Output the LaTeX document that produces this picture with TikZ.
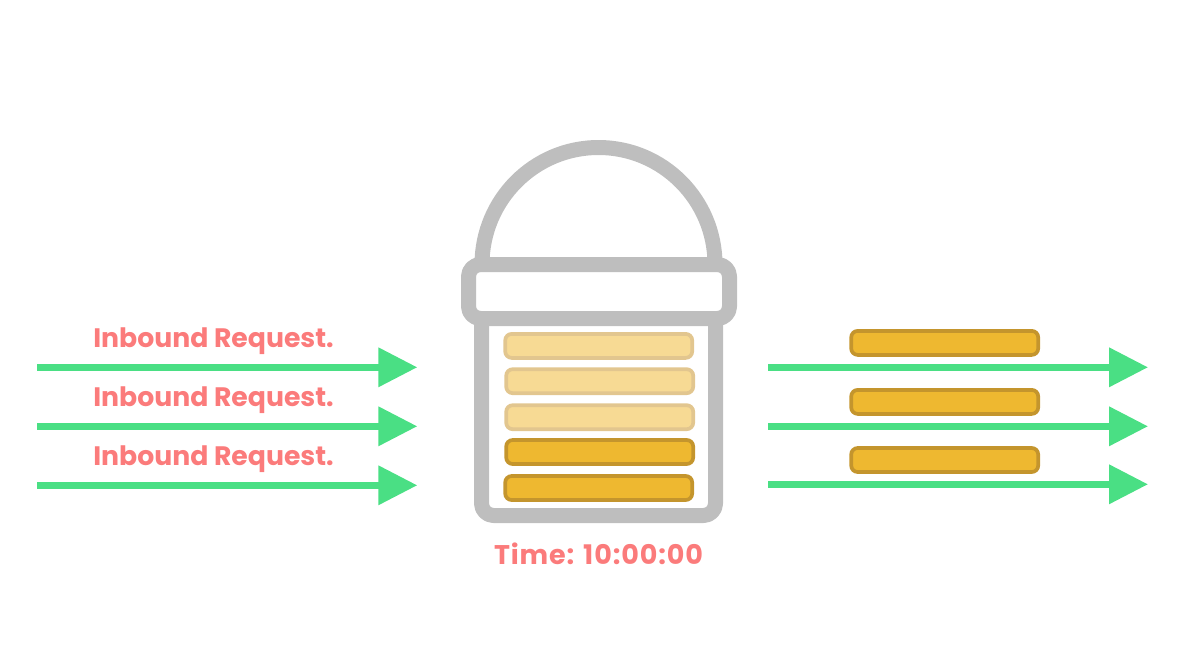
\documentclass[tikz,border=0pt]{standalone}
\usepackage{fontspec}
\setmainfont{Poppins}
\usetikzlibrary{arrows.meta}
\definecolor{bucketgray}{HTML}{BEBEBE}
\definecolor{flowgreen}{HTML}{4ADF84}
\definecolor{labelred}{HTML}{FB7B7B}
\definecolor{darkfill}{HTML}{EEB830}
\definecolor{darkline}{HTML}{C4952D}
\definecolor{lightfill}{HTML}{F7DA94}
\definecolor{lightline}{HTML}{E2C68F}
\tikzset{
  bucketline/.style={draw=bucketgray,line width=15pt,rounded corners=12pt,line join=round},
  packet/.style={rectangle,rounded corners=6.5pt,line width=3.7pt,minimum width=187pt,minimum height=24pt,inner sep=0pt,outer sep=0pt},
  packetdark/.style={packet,draw=darkline,fill=darkfill},
  packetlight/.style={packet,draw=lightline,fill=lightfill},
  flow/.style={draw=flowgreen,line width=7pt,-{Triangle[length=39pt,width=38pt,fill=flowgreen]}},
  tag/.style={text=labelred,font=\fontsize{26.7}{27}\selectfont\bfseries,inner sep=0pt,anchor=base},
  timetag/.style={text=labelred,font=\fontsize{27}{27}\selectfont\bfseries\addfontfeature{LetterSpace=3.3},inner sep=0pt,anchor=base},
}
\begin{document}
\begin{tikzpicture}[x=1pt,y=-1pt]
\useasboundingbox (0,0) rectangle (1198,664);
% bucket
\draw[draw=bucketgray,line width=15pt] (482,264.5) arc[start angle=180,end angle=360,x radius=116.5,y radius=117];
\draw[bucketline] (481.5,318) -- (481.5,515.5) -- (715.5,515.5) -- (715.5,318);
\draw[bucketline,fill=white] (468.5,264.5) rectangle (729.5,318.5);
% packets in bucket
\node[packetlight] (p1) at (598.7,345.9) {};
\node[packetlight] (p2) at (599.7,381.2) {};
\node[packetlight] (p3) at (599.7,417.2) {};
\node[packetdark] (p4) at (599.7,452) {};
\node[packetdark] (p5) at (598.7,488) {};
% packets out
\node[packetdark] (o1) at (944.7,342.9) {};
\node[packetdark] (o2) at (944.7,401.9) {};
\node[packetdark] (o3) at (944.7,460) {};
% inbound arrows
\coordinate (ia1) at (37,367.3); \coordinate (ib1) at (417.3,367.3);
\coordinate (ia2) at (37,426.3); \coordinate (ib2) at (417.3,426.3);
\coordinate (ia3) at (37,485.3); \coordinate (ib3) at (417.3,485.3);
\draw[flow] (ia1) -- (ib1);
\draw[flow] (ia2) -- (ib2);
\draw[flow] (ia3) -- (ib3);
% outbound arrows
\coordinate (oa1) at (768,367.3); \coordinate (ob1) at (1148,367.3);
\coordinate (oa2) at (768,426.3); \coordinate (ob2) at (1148,426.3);
\coordinate (oa3) at (768,484.3); \coordinate (ob3) at (1148,484.3);
\draw[flow] (oa1) -- (ob1);
\draw[flow] (oa2) -- (ob2);
\draw[flow] (oa3) -- (ob3);
% labels
\node[tag] (l1) at (213.5,347) {Inbound Request.};
\node[tag] (l2) at (213.5,406) {Inbound Request.};
\node[tag] (l3) at (213.5,465) {Inbound Request.};
\node[timetag] (t) at (598.5,564) {Time: 10:00:00};
\end{tikzpicture}
\end{document}
